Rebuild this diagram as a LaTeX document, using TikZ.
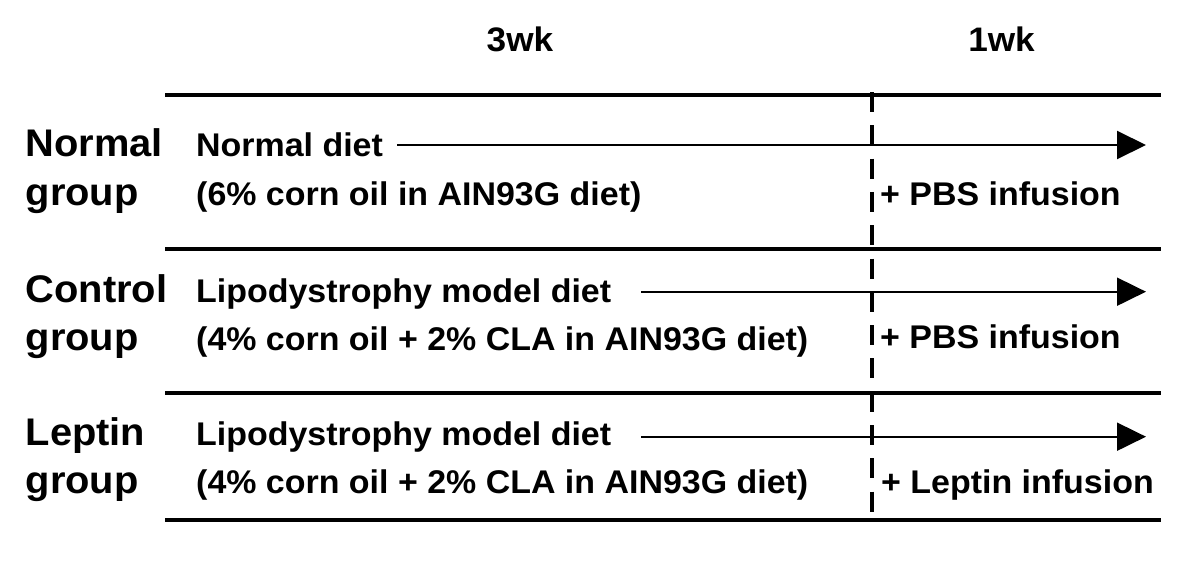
\documentclass[tikz,border=0pt]{standalone}
\usepackage{fontspec}
\setmainfont[FakeStretch=1.035]{Liberation Sans}
\usetikzlibrary{arrows.meta,calc}
\begin{document}
\begin{tikzpicture}[x=1pt,y=-1pt,
  grp/.style={anchor=base west,inner sep=0pt,font=\fontsize{38.5}{40}\selectfont\bfseries},
  body/.style={anchor=base west,inner sep=0pt,font=\fontsize{32.8}{36}\selectfont\bfseries},
  head/.style={anchor=base,inner sep=0pt,font=\fontsize{34}{36}\selectfont\bfseries},
  rule/.style={line width=4pt},
  divider/.style={line width=4pt,dash pattern=on 20pt off 13.3pt},
  arr/.style={line width=2pt,-{Triangle[length=29pt,width=28pt]}}]
\useasboundingbox (0,0) rectangle (1200,560);
% headings
\node[head] (h3) at (520,51.7) {3wk};
\node[head] (h1) at (1001.5,51.7) {1wk};
% horizontal rules
\coordinate (r1w) at (165,95);  \coordinate (r1e) at (1161,95);
\coordinate (r2w) at (165,249); \coordinate (r2e) at (1161,249);
\coordinate (r3w) at (165,393); \coordinate (r3e) at (1161,393);
\coordinate (r4w) at (165,520); \coordinate (r4e) at (1161,520);
\draw[rule] (r1w) -- (r1e);
\draw[rule] (r2w) -- (r2e);
\draw[rule] (r3w) -- (r3e);
\draw[rule] (r4w) -- (r4e);
% dashed divider
\coordinate (dtop) at (872,92);
\coordinate (dbot) at (872,515);
\draw[divider] (dtop) -- (dbot);
% group labels
\node[grp] (g1a) at (25.5,156) {Normal};
\node[grp] (g1b) at (25.5,205) {group};
\node[grp] (g2a) at (25.5,302) {Control};
\node[grp] (g2b) at (25.5,350) {group};
\node[grp] (g3a) at (25.5,445) {Leptin};
\node[grp] (g3b) at (25.5,493) {group};
% diets
\node[body] (d1a) at (196,156) {Normal diet};
\node[body] (d1b) at (196,205) {(6\% corn oil in AIN93G diet)};
\node[body] (d2a) at (196,302) {Lipodystrophy model diet};
\node[body] (d2b) at (196,350) {(4\% corn oil + 2\% CLA in AIN93G diet)};
\node[body] (d3a) at (196,445) {Lipodystrophy model diet};
\node[body] (d3b) at (196,493) {(4\% corn oil + 2\% CLA in AIN93G diet)};
% infusions
\node[body] (i1) at (880,205) {+ PBS infusion};
\node[body] (i2) at (880,348) {+ PBS infusion};
\node[body] (i3) at (881,493) {+ Leptin infusion};
% arrows
\coordinate (a1) at (1146,145);
\coordinate (a2) at (1146,291.7);
\coordinate (a3) at (1146,436.7);
\draw[arr] ([xshift=14pt]d1a.east |- a1) -- (a1);
\draw[arr] ([xshift=30pt]d2a.east |- a2) -- (a2);
\draw[arr] ([xshift=30pt]d3a.east |- a3) -- (a3);
\end{tikzpicture}
\end{document}
